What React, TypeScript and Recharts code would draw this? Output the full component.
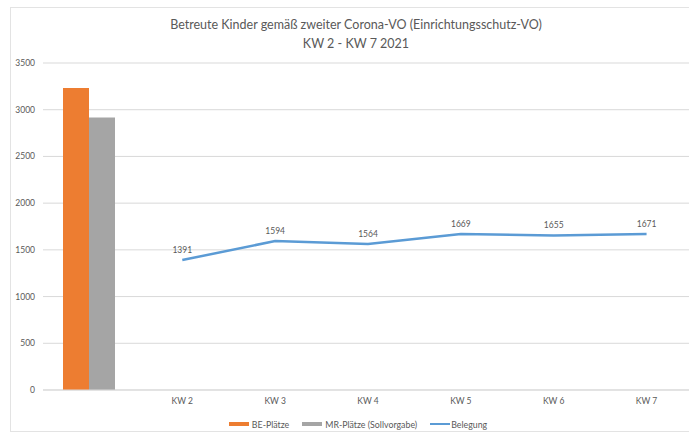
import React from 'react';
import {
  ComposedChart,
  Bar,
  Line,
  XAxis,
  YAxis,
  CartesianGrid,
  Legend,
  LabelList,
} from 'recharts';

const categories = ['', 'KW 2', 'KW 3', 'KW 4', 'KW 5', 'KW 6', 'KW 7'];
const bePlaetze = [3233, null, null, null, null, null, null];
const mrPlaetze = [2917, null, null, null, null, null, null];
const belegung = [null, 1391, 1594, 1564, 1669, 1655, 1671];
const yTicks = [0, 500, 1000, 1500, 2000, 2500, 3000, 3500];

const data = categories.map((name, i) => ({
  name,
  be: bePlaetze[i],
  mr: mrPlaetze[i],
  belegung: belegung[i],
}));

const FONT = 'Lato, "Open Sans", sans-serif';
const TEXT = '#595959';

const legendItems = [
  { label: 'BE-Plätze', color: '#ED7D31', kind: 'bar' },
  { label: 'MR-Plätze (Sollvorgabe)', color: '#A5A5A5', kind: 'bar' },
  { label: 'Belegung', color: '#5B9BD5', kind: 'line' },
];

const CustomLegend = () => (
  <div
    style={{
      height: 14,
      display: 'flex',
      justifyContent: 'center',
      alignItems: 'center',
      paddingLeft: 36,
      fontFamily: FONT,
      fontSize: 8.8,
      color: TEXT,
    }}
  >
    {legendItems.map((item) => (
      <div key={item.label} style={{ display: 'flex', alignItems: 'center', marginRight: 13 }}>
        <span
          style={{
            display: 'inline-block',
            width: 20,
            height: item.kind === 'bar' ? 4 : 2,
            background: item.color,
            marginRight: item.kind === 'bar' ? 3 : 1,
          }}
        />
        <span>{item.label}</span>
      </div>
    ))}
  </div>
);

export default function App() {
  return (
    <div style={{ position: 'absolute', left: 0, top: 0, width: 689, height: 434, background: '#fff', overflow: 'hidden' }}>
      <div
        style={{
          position: 'absolute',
          left: 10,
          top: 7,
          width: 700,
          height: 425,
          borderTop: '1px solid #E3E3E3',
          borderLeft: '1px solid #E3E3E3',
          borderBottom: '1px solid #E3E3E3',
          boxSizing: 'border-box',
        }}
      />
      <div
        style={{
          position: 'absolute',
          left: 0,
          top: 15,
          width: 712,
          textAlign: 'center',
          fontFamily: FONT,
          fontSize: 12.5,
          lineHeight: '19px',
          color: TEXT,
        }}
      >
        <div>Betreute Kinder gemäß zweiter Corona-VO (Einrichtungsschutz-VO)</div>
        <div>KW 2 - KW 7 2021</div>
      </div>
      <ComposedChart
        width={689}
        height={434}
        data={data}
        margin={{ top: 63, right: -4, bottom: 3, left: 0 }}
        barCategoryGap={20}
        barGap={0}
        style={{ position: 'absolute', left: 0, top: 0 }}
      >
        <CartesianGrid vertical={false} stroke="#D9D9D9" />
        <XAxis
          dataKey="name"
          height={27}
          tickLine={false}
          axisLine={{ stroke: '#D9D9D9' }}
          tick={{ fontSize: 8.5, fill: TEXT, fontFamily: FONT }}
          interval={0}
        />
        <YAxis
          width={43}
          domain={[0, 3500]}
          ticks={yTicks}
          tickLine={false}
          axisLine={false}
          tick={{ fontSize: 8.5, fill: TEXT, fontFamily: FONT }}
        />
        <Legend verticalAlign="bottom" content={<CustomLegend />} />
        <Bar dataKey="be" name="BE-Plätze" fill="#ED7D31" isAnimationActive={false} />
        <Bar dataKey="mr" name="MR-Plätze (Sollvorgabe)" fill="#A5A5A5" isAnimationActive={false} />
        <Line
          dataKey="belegung"
          name="Belegung"
          stroke="#5B9BD5"
          strokeWidth={2.5}
          dot={false}
          activeDot={false}
          type="linear"
          isAnimationActive={false}
        >
          <LabelList
            dataKey="belegung"
            position="top"
            offset={7}
            style={{ fontSize: 8.5, fill: TEXT, fontFamily: FONT }}
          />
        </Line>
      </ComposedChart>
    </div>
  );
}
